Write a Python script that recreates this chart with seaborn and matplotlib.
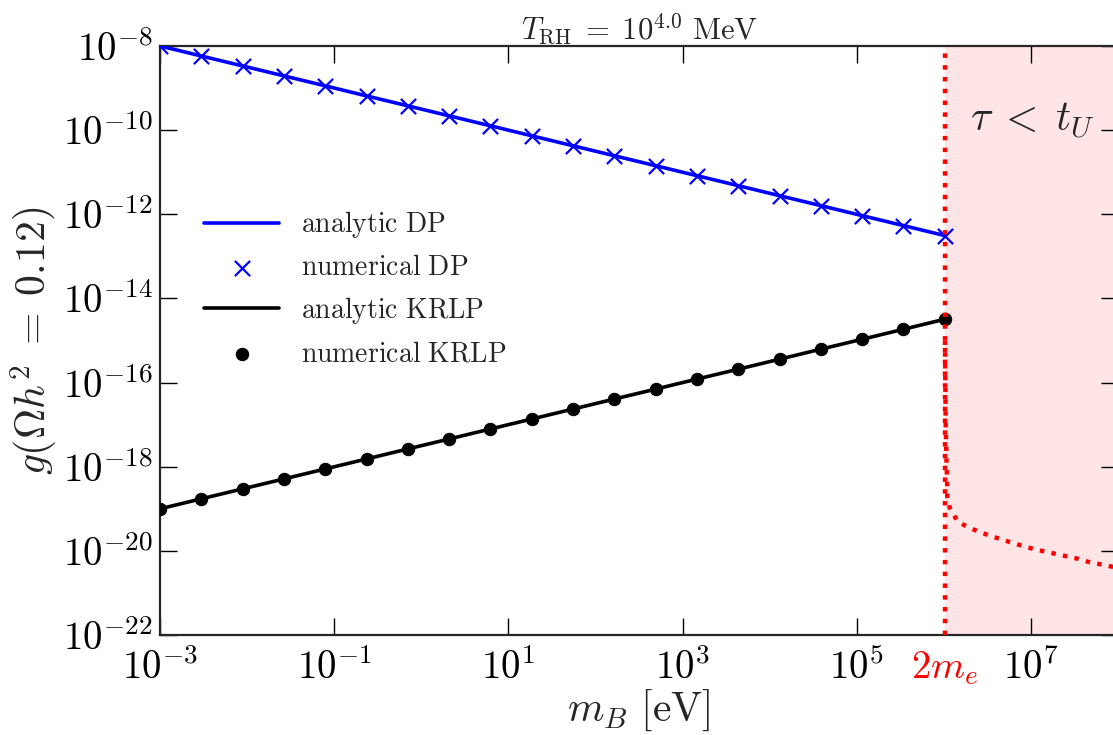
import numpy as np
import pandas as pd
import matplotlib
matplotlib.use('Agg')
import matplotlib.pyplot as plt
import seaborn as sns
from matplotlib.ticker import NullLocator

sns.set_style('ticks')
plt.rcParams['mathtext.fontset'] = 'cm'
plt.rcParams['font.family'] = ['DejaVu Serif']

# 质量 (eV) 与耦合常数
m_B = [1.0e-3, 2.98e-3, 8.88e-3, 2.65e-2, 7.89e-2, 0.235, 0.700, 2.09, 6.21, 18.5,
       55.2, 164, 490, 1460, 4350, 1.30e4, 3.86e4, 1.15e5, 3.43e5, 1.02e6]
g_DP = [1.0e-8, 5.79e-9, 3.36e-9, 1.95e-9, 1.13e-9, 6.52e-10, 3.78e-10, 2.19e-10,
        1.27e-10, 7.35e-11, 4.26e-11, 2.47e-11, 1.43e-11, 8.28e-12, 4.80e-12,
        2.77e-12, 1.61e-12, 9.31e-13, 5.40e-13, 3.13e-13]
g_KRLP = [1.0e-19, 1.73e-19, 2.98e-19, 5.14e-19, 8.87e-19, 1.53e-18, 2.65e-18,
          4.57e-18, 7.89e-18, 1.36e-17, 2.35e-17, 4.06e-17, 7.00e-17, 1.21e-16,
          2.08e-16, 3.60e-16, 6.22e-16, 1.07e-15, 1.85e-15, 3.20e-15]

# 寿命边界 tau = t_U
m_life = [1.03e6, 1.05e6, 1.077e6, 1.09e6, 1.095e6, 1.17e6, 1.45e6, 2.0e6, 2.81e6,
          4.04e6, 5.74e6, 8.53e6, 1.20e7, 1.73e7, 2.45e7, 3.47e7, 4.98e7, 7.11e7, 1.0e8]
g_life = [1e-15, 1e-17, 1e-18, 4.1e-19, 1.95e-19, 1.05e-19, 4.9e-20, 3.47e-20,
          2.63e-20, 2.04e-20, 1.62e-20, 1.26e-20, 1.05e-20, 8.9e-21, 7.6e-21,
          6.5e-21, 5.2e-21, 4.6e-21, 3.9e-21]

two_me = 1.022e6

xticks = [1e-3, 1e-1, 1e1, 1e3, 1e5, 1e7]
xticklabels = [r'$10^{-3}$', r'$10^{-1}$', r'$10^{1}$', r'$10^{3}$', r'$10^{5}$', r'$10^{7}$']
yticks = [1e-22, 1e-20, 1e-18, 1e-16, 1e-14, 1e-12, 1e-10, 1e-8]
yticklabels = [r'$10^{-22}$', r'$10^{-20}$', r'$10^{-18}$', r'$10^{-16}$',
               r'$10^{-14}$', r'$10^{-12}$', r'$10^{-10}$', r'$10^{-8}$']

fig = plt.figure(figsize=(11.13, 7.35), dpi=100)
ax = fig.add_axes([0.1438, 0.136, 0.8607, 0.8014])
ax.set_xscale('log')
ax.set_yscale('log')

ax.axvspan(two_me, 1e8, color='red', alpha=0.1, lw=0, zorder=0)

sns.lineplot(x=m_B, y=g_DP, ax=ax, color='blue', lw=2.6, label=r'$\mathrm{analytic\ DP}$', zorder=3)
sns.scatterplot(x=m_B, y=g_DP, ax=ax, color='blue', marker='x', s=120, linewidth=1.6,
                label=r'$\mathrm{numerical\ DP}$', zorder=4)
sns.lineplot(x=m_B, y=g_KRLP, ax=ax, color='black', lw=2.6, label=r'$\mathrm{analytic\ KRLP}$', zorder=3)
sns.scatterplot(x=m_B, y=g_KRLP, ax=ax, color='black', marker='o', s=80, edgecolor='black',
                label=r'$\mathrm{numerical\ KRLP}$', zorder=4)

ax.axvline(two_me, color='red', ls=':', lw=3.2, zorder=5)
sns.lineplot(x=m_life, y=g_life, ax=ax, color='red', ls=':', lw=3.2, sort=False, zorder=5, legend=False)

ax.set_xlim(1e-3, 1e8)
ax.set_ylim(1e-22, 1e-8)
ax.set_xticks(xticks, xticklabels)
ax.set_yticks(yticks, yticklabels)
ax.xaxis.set_minor_locator(NullLocator())
ax.yaxis.set_minor_locator(NullLocator())
ax.tick_params(which='major', direction='in', length=12, width=1, top=True, right=True,
               labelsize=28, colors='black')
ax.tick_params(axis='x', pad=10)
ax.tick_params(axis='y', pad=5)
for s in ax.spines.values():
    s.set_linewidth(1.6)

ax.text(two_me, -0.025, r'$2m_e$', color='red', fontsize=28, ha='center', va='top',
        transform=ax.get_xaxis_transform())
ax.text(0.845, 0.874, r'$\tau\;<\;t_U$', fontsize=30, ha='left', va='center', transform=ax.transAxes)

ax.set_xlabel(r'$m_B\ [\mathrm{eV}]$', fontsize=30, labelpad=0)
ax.set_ylabel(r'$g(\Omega h^2\;=\;0.12)$', fontsize=30, labelpad=2)
ax.set_title(r'$T_{\rm RH}\;=\;10^{4.0}\ {\rm MeV}$', fontsize=22, pad=5)

ax.legend(loc='upper left', bbox_to_anchor=(0.02, 0.765), frameon=False, fontsize=20,
          handlelength=2.7, handletextpad=0.8, labelspacing=0.5, markerscale=1.0)

fig.savefig('out.png', dpi=100)
